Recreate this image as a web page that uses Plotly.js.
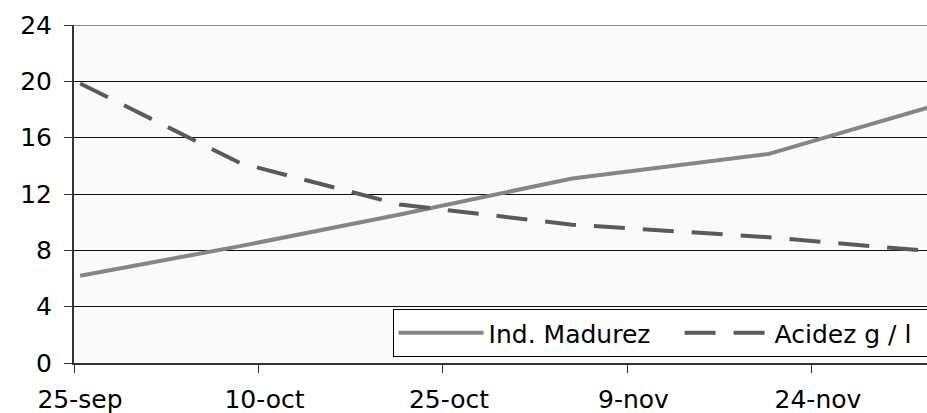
<!DOCTYPE html>
<html>
<head>
<meta charset="utf-8">
<script src="https://cdn.plot.ly/plotly-3.0.1.min.js"></script>
<style>
  html, body { margin: 0; padding: 0; background: #ffffff; }
  #chart { width: 927px; height: 413px; }
</style>
</head>
<body>
<div id="chart"></div>
<script>
// ---- data ----
const sampleDates = ['2007-09-25', '2007-10-08', '2007-10-21', '2007-11-04', '2007-11-20', '2007-12-03'];
const indMadurez  = [6.2, 8.3, 10.55, 13.1, 14.85, 18.15];
const acidez      = [19.85, 14.2, 11.25, 9.82, 8.93, 7.95];
const seriesNames = ['Ind. Madurez', 'Acidez g / l'];
const tickDates   = ['2007-09-25', '2007-10-10', '2007-10-25', '2007-11-09', '2007-11-24'];
const tickLabels  = ['25-sep', '10-oct', '25-oct', '9-nov', '24-nov'];
const yTicks      = [0, 4, 8, 12, 16, 20, 24];

// date-axis bins: each day occupies one bin, tick marks sit at bin edges
const HALF_DAY = 12 * 3600 * 1000;
function shiftDate(s, ms) {
  const d = new Date(Date.parse(s + 'T00:00:00Z') + ms);
  return d.toISOString().replace('T', ' ').replace('Z', '').slice(0, 19);
}
const tickEdges = tickDates.map(d => shiftDate(d, -HALF_DAY));
const xStart = shiftDate(sampleDates[0], -HALF_DAY);
const xEnd = '2007-12-02 20:30:00';

const FONT = 'DejaVu Sans, Arial, sans-serif';

const traces = [
  {
    x: sampleDates, y: indMadurez, name: seriesNames[0],
    type: 'scatter', mode: 'lines',
    line: { color: '#858585', width: 4 }
  },
  {
    x: sampleDates, y: acidez, name: seriesNames[1],
    type: 'scatter', mode: 'lines',
    line: { color: '#5a5a5a', width: 4, dash: '31px,18px' }
  }
];

const layout = {
  width: 927, height: 413,
  margin: { l: 74, r: 0, t: 25, b: 50, pad: 0, autoexpand: false },
  paper_bgcolor: '#ffffff',
  plot_bgcolor: '#fafafa',
  font: { family: FONT, size: 25, color: '#000000' },
  showlegend: true,
  legend: {
    orientation: 'h',
    xref: 'container', yref: 'container',
    x: 0.4235, xanchor: 'left',
    y: 0.2518, yanchor: 'top',
    bgcolor: '#ffffff', bordercolor: '#000000', borderwidth: 1,
    font: { family: FONT, size: 25, color: '#000000' },
    itemwidth: 85,
    entrywidth: 186,
    traceorder: 'normal'
  },
  xaxis: {
    type: 'date',
    range: [xStart, xEnd],
    tickmode: 'array', tickvals: tickEdges, ticktext: tickLabels,
    ticklabelshift: 6,
    ticks: 'outside', ticklen: 8, tickwidth: 1, tickcolor: '#333333',
    showline: true, linecolor: '#333333', linewidth: 2,
    showgrid: false, zeroline: false,
    ticklabelstandoff: 5,
    tickfont: { family: FONT, size: 25, color: '#000000' }
  },
  yaxis: {
    range: [0, 24],
    tickmode: 'array', tickvals: yTicks,
    ticks: 'outside', ticklen: 8, tickwidth: 1, tickcolor: '#333333',
    showline: true, linecolor: '#333333', linewidth: 2,
    showgrid: true, gridcolor: '#111111', gridwidth: 1,
    zeroline: false,
    ticklabelstandoff: 7,
    tickfont: { family: FONT, size: 25, color: '#000000' }
  },
  shapes: [
    { type: 'line', xref: 'paper', yref: 'y', x0: 0, x1: 1, y0: 24, y1: 24,
      line: { color: '#8a8a8a', width: 2 }, layer: 'above' }
  ]
};

Plotly.newPlot('chart', traces, layout, { displayModeBar: false, staticPlot: true });
</script>
</body>
</html>
